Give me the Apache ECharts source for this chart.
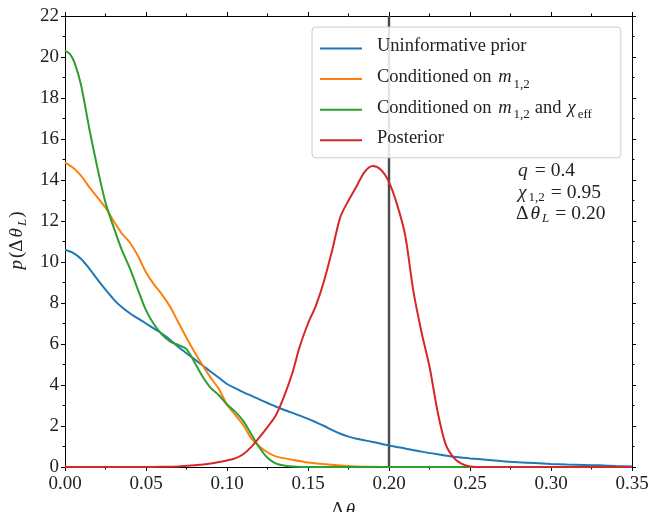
<!DOCTYPE html>
<html>
<head>
<meta charset="utf-8">
<script src="https://cdn.jsdelivr.net/npm/echarts@6/dist/echarts.min.js"></script>
<style>
  html, body { margin: 0; padding: 0; background: #fff; }
  #chart { width: 649px; height: 512px; }
</style>
</head>
<body>
<div id="chart"></div>
<script>
// Kernel density estimates of the misalignment angle Δθ_L
const priorX = [0, 0.005, 0.01, 0.015, 0.02, 0.025, 0.03, 0.035, 0.04, 0.045, 0.05, 0.055, 0.06, 0.065, 0.07, 0.075, 0.08, 0.085, 0.09, 0.095, 0.10, 0.105, 0.11, 0.12, 0.13, 0.14, 0.15, 0.155, 0.16, 0.165, 0.17, 0.175, 0.18, 0.19, 0.20, 0.21, 0.22, 0.23, 0.24, 0.25, 0.26, 0.27, 0.28, 0.29, 0.30, 0.31, 0.32, 0.33, 0.34, 0.35];
const priorY = [10.6, 10.45, 10.15, 9.68, 9.15, 8.65, 8.18, 7.8, 7.5, 7.25, 7.0, 6.75, 6.5, 6.2, 5.85, 5.55, 5.25, 4.95, 4.65, 4.35, 4.05, 3.85, 3.65, 3.3, 2.95, 2.65, 2.35, 2.18, 2.0, 1.8, 1.62, 1.48, 1.38, 1.22, 1.05, 0.9, 0.75, 0.62, 0.5, 0.42, 0.35, 0.28, 0.23, 0.19, 0.15, 0.12, 0.1, 0.08, 0.05, 0.03];

const massX = [0, 0.005, 0.01, 0.015, 0.02, 0.025, 0.03, 0.035, 0.04, 0.045, 0.05, 0.055, 0.06, 0.065, 0.07, 0.075, 0.08, 0.085, 0.09, 0.095, 0.10, 0.105, 0.11, 0.115, 0.12, 0.125, 0.13, 0.14, 0.15, 0.16, 0.17, 0.18, 0.19, 0.20, 0.25, 0.30, 0.35];
const massY = [14.85, 14.6, 14.2, 13.65, 13.15, 12.65, 12.0, 11.4, 10.95, 10.3, 9.5, 8.9, 8.4, 7.8, 7.05, 6.3, 5.6, 4.95, 4.35, 3.8, 3.05, 2.55, 2.05, 1.4, 1.0, 0.72, 0.52, 0.36, 0.22, 0.14, 0.07, 0.03, 0.01, 0, 0, 0, 0];

const chiX = [0, 0.003, 0.006, 0.01, 0.015, 0.02, 0.025, 0.03, 0.035, 0.04, 0.045, 0.05, 0.055, 0.06, 0.065, 0.07, 0.075, 0.08, 0.085, 0.09, 0.095, 0.10, 0.105, 0.11, 0.115, 0.12, 0.125, 0.13, 0.135, 0.14, 0.15, 0.20, 0.25, 0.30, 0.35];
const chiY = [20.3, 20.15, 19.7, 18.6, 16.5, 14.6, 12.9, 11.7, 10.6, 9.7, 8.65, 7.65, 6.95, 6.45, 6.12, 5.95, 5.75, 5.1, 4.4, 3.85, 3.5, 3.05, 2.7, 2.25, 1.6, 0.95, 0.45, 0.18, 0.07, 0.03, 0, 0, 0, 0, 0];

const postX = [0, 0.05, 0.06, 0.07, 0.08, 0.09, 0.10, 0.105, 0.11, 0.115, 0.12, 0.125, 0.13, 0.135, 0.14, 0.145, 0.15, 0.155, 0.16, 0.165, 0.17, 0.175, 0.18, 0.185, 0.19, 0.195, 0.20, 0.205, 0.21, 0.215, 0.22, 0.225, 0.23, 0.235, 0.24, 0.245, 0.25, 0.26, 0.30, 0.35];
const postY = [0, 0, 0.01, 0.03, 0.08, 0.17, 0.32, 0.42, 0.62, 0.98, 1.45, 1.95, 2.5, 3.4, 4.5, 5.9, 7.0, 7.9, 9.1, 10.6, 12.2, 13.0, 13.7, 14.4, 14.68, 14.5, 13.9, 12.8, 11.3, 8.6, 6.6, 4.9, 2.7, 1.1, 0.45, 0.15, 0.03, 0, 0, 0];

// Injected value of Δθ_L
const trueValue = 0.20;

const seriesNames = ['Uninformative prior', 'Conditioned on m12', 'Conditioned on m12 and chieff', 'Posterior'];
const seriesColors = ['#1f77b4', '#ff7f0e', '#2ca02c', '#d62728'];

const xTicks = { min: 0, max: 0.35, step: 0.05 };
const yTicks = { min: 0, max: 22, step: 2 };

const zip = (xs, ys) => xs.map((x, i) => [x, ys[i]]);
const curves = [zip(priorX, priorY), zip(massX, massY), zip(chiX, chiY), zip(postX, postY)];

const SERIF = '"Liberation Serif", "DejaVu Serif", serif';
const INK = '#222';

// Rich-text styles for inline math: italic symbols, upright text, spaced "=", lowered subscripts
function mathStyles(size, lh, sep) {
  const sub = Math.round(size * 0.68);
  const subPad = lh - sub;
  return {
    i: { fontFamily: SERIF, fontStyle: 'italic', fontSize: size, color: INK, lineHeight: lh, verticalAlign: 'top', padding: [0, 2, 0, 2] },
    n: { fontFamily: SERIF, fontSize: size, color: INK, lineHeight: lh, verticalAlign: 'top' },
    w: { fontFamily: SERIF, fontSize: size, color: INK, lineHeight: lh, verticalAlign: 'top', padding: [0, 4, 0, 4] },
    e: { fontFamily: SERIF, fontSize: size, color: INK, lineHeight: lh, verticalAlign: 'top', padding: [0, sep, 0, sep] },
    s: { fontFamily: SERIF, fontSize: sub, color: INK, lineHeight: sub, padding: [subPad, 1, 0, 0], verticalAlign: 'top' },
    si: { fontFamily: SERIF, fontStyle: 'italic', fontSize: sub, color: INK, lineHeight: sub, padding: [subPad, 1, 0, 0], verticalAlign: 'top' }
  };
}

const legendRich = mathStyles(18.5, 23, 4);
const noteRich = mathStyles(19.5, 21.5, 5);
const axisNameRich = mathStyles(19, 22, 4);

// every row carries a subscript-height token so all rows have the same height
const legendLabels = {
  'Uninformative prior': '{n|Uninformative prior}{s| }',
  'Conditioned on m12': '{n|Conditioned on }{i|m}{s|1,2}',
  'Conditioned on m12 and chieff': '{n|Conditioned on }{i|m}{s|1,2}{w|and}{i|χ}{s|eff}',
  'Posterior': '{n|Posterior}{s| }'
};

function frameAxis(position, isX, showLabels, range) {
  return {
    type: 'value',
    position: position,
    min: range.min,
    max: range.max,
    interval: range.step,
    axisLine: { show: true, onZero: false, lineStyle: { color: '#000', width: 1 } },
    axisTick: { show: true, inside: false, length: 4, lineStyle: { color: '#000', width: 1 } },
    minorTick: { show: true, splitNumber: 2, length: 2.5, lineStyle: { color: '#000', width: 1 } },
    splitLine: { show: false },
    minorSplitLine: { show: false },
    axisLabel: showLabels ? {
      show: true,
      fontFamily: SERIF,
      fontSize: 19,
      color: INK,
      margin: isX ? 8 : 6,
      formatter: isX ? (v) => v.toFixed(2) : (v) => String(Math.round(v))
    } : { show: false }
  };
}

const xMain = frameAxis('bottom', true, true, xTicks);
xMain.name = '{n|Δ}{i|θ}{si|L}';
xMain.nameLocation = 'middle';
xMain.nameGap = 34;
xMain.nameTextStyle = { rich: axisNameRich };

const yMain = frameAxis('left', false, true, yTicks);
yMain.name = '{i|p}{n|(Δ}{i|θ}{si|L}{n|)}';
yMain.nameLocation = 'middle';
yMain.nameGap = 35;
yMain.nameTextStyle = { rich: axisNameRich };

const series = curves.map((pts, k) => ({
  name: seriesNames[k],
  type: 'line',
  data: pts,
  smooth: 0.3,
  showSymbol: false,
  symbol: 'none',
  clip: false,
  lineStyle: { color: seriesColors[k], width: 2 },
  itemStyle: { color: seriesColors[k] },
  z: 3 + k
}));

series.unshift({
  name: 'true',
  type: 'line',
  data: [[trueValue, yTicks.min], [trueValue, yTicks.max]],
  showSymbol: false,
  symbol: 'none',
  lineStyle: { color: '#4a4a4a', width: 2.4 },
  z: 2,
  silent: true
});

const chart = echarts.init(document.getElementById('chart'), null, { renderer: 'canvas' });
chart.setOption({
  animation: false,
  backgroundColor: '#fff',
  grid: { left: 65, right: 17, top: 16, bottom: 45, containLabel: false, outerBoundsMode: 'none' },
  xAxis: [xMain, frameAxis('top', true, false, xTicks)],
  yAxis: [yMain, frameAxis('right', false, false, yTicks)],
  legend: {
    data: seriesNames,
    orient: 'vertical',
    left: 312,
    top: 27,
    padding: [10, 28, 6, 8],
    itemGap: 7.6,
    itemWidth: 42,
    itemHeight: 14,
    icon: 'path://M0,6 L42,6 L42,8 L0,8 Z',
    backgroundColor: 'rgba(255,255,255,0.85)',
    borderColor: '#ccc',
    borderWidth: 1,
    borderRadius: 4,
    z: 10,
    textStyle: { fontFamily: SERIF, fontSize: 18.5, color: INK, padding: [0, 0, 0, 10], rich: legendRich },
    formatter: (name) => legendLabels[name]
  },
  graphic: [{
    type: 'text',
    left: 516,
    top: 161,
    z: 20,
    style: {
      text: '{i|q}{e|=}{n|0.4}\n{i|χ}{s|1,2}{e|=}{n|0.95}\n{n|Δ}{i|θ}{si|L}{e|=}{n|0.20}',
      rich: noteRich,
      fontFamily: SERIF,
      fontSize: 19.5,
      fill: INK
    }
  }],
  series: series
});
</script>
</body>
</html>
